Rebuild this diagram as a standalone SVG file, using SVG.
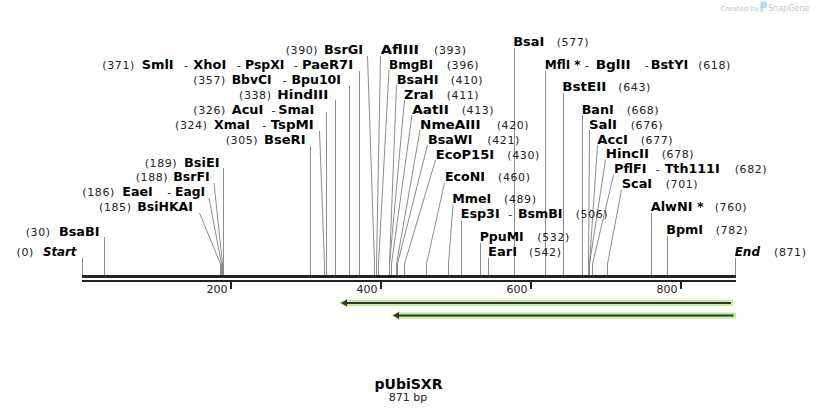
<svg xmlns="http://www.w3.org/2000/svg" width="818" height="415" viewBox="0 0 818 415">
<style>
text{font-family:"DejaVu Sans",Verdana,sans-serif}
.n{font-size:12px;font-weight:bold;fill:#000}
.i{font-size:12px;font-weight:bold;font-style:italic;fill:#000}
.c{font-size:11px;fill:#222;letter-spacing:0.6px}
.h{font-size:11px;font-weight:normal;fill:#222}
.t{font-size:11px;fill:#222;text-anchor:end}
.l{stroke:#8c8c8c;stroke-width:1;fill:none}
.bb{fill:#222}
.fg{stroke:#bdf29a;stroke-width:6;fill:none}
.fgh{fill:#bdf29a}
.fd{stroke:#333;stroke-width:2;fill:none}
.fdh{fill:#333}
.wm{fill:#c6c6c6}
</style>
<rect width="818" height="415" fill="#fff"/>

<g id="watermark">
<text class="wm" x="720.5" y="11" style="font-size:7px">Created by</text>
<path d="M760.5,1.5 h3.5 a3.2,3.2 0 0 1 0,6.4 h-1.3 v4.3 h-2.2 z" fill="#b3dcf5"/>
<text class="wm" x="768" y="11" style="font-size:8px">SnapGene</text>
</g>

<g id="connectors">
<polyline class="l" points="82.5,258 82.5,275"/>
<polyline class="l" points="104.5,237 104.5,275"/>
<polyline class="l" points="199.5,213 220.5,264 220.5,275"/>
<polyline class="l" points="209,198 221.5,264 221.5,275"/>
<polyline class="l" points="214,183 222.5,264 222.5,275"/>
<polyline class="l" points="223.5,168 223.5,275"/>
<polyline class="l" points="310.5,146 310.5,275"/>
<polyline class="l" points="319.5,131 324.5,264 324.5,275"/>
<polyline class="l" points="326.5,112 326.5,275"/>
<polyline class="l" points="335.5,100 335.5,275"/>
<polyline class="l" points="349.5,86 349.5,275"/>
<polyline class="l" points="359.5,71 359.5,275"/>
<polyline class="l" points="367.5,56 374.5,264 374.5,275"/>
<polyline class="l" points="380.5,56 376.5,264 376.5,275"/>
<polyline class="l" points="389,70 378.5,264 378.5,275"/>
<polyline class="l" points="396.5,85 389.5,264 389.5,275"/>
<polyline class="l" points="404.5,100 389.5,264 389.5,275"/>
<polyline class="l" points="412,115 391.5,264 391.5,275"/>
<polyline class="l" points="420,130 396.5,264 396.5,275"/>
<polyline class="l" points="427.5,145 397.5,264 397.5,275"/>
<polyline class="l" points="435.5,160 404.5,264 404.5,275"/>
<polyline class="l" points="444.5,183 426.5,264 426.5,275"/>
<polyline class="l" points="453,205 448.5,264 448.5,275"/>
<polyline class="l" points="461.5,221 461.5,275"/>
<polyline class="l" points="480.5,243 480.5,275"/>
<polyline class="l" points="488.5,258 488.5,275"/>
<polyline class="l" points="514.5,48 514.5,275"/>
<polyline class="l" points="545.5,71 545.5,275"/>
<polyline class="l" points="563.5,93 563.5,275"/>
<polyline class="l" points="582.5,115 582.5,275"/>
<polyline class="l" points="589.5,130 588.5,264 588.5,275"/>
<polyline class="l" points="597.5,145 589.5,264 589.5,275"/>
<polyline class="l" points="605.5,160 589.5,264 589.5,275"/>
<polyline class="l" points="613.5,175 592.5,264 592.5,275"/>
<polyline class="l" points="621.5,190 607.5,264 607.5,275"/>
<polyline class="l" points="651.5,213 651.5,275"/>
<polyline class="l" points="667.5,236 667.5,275"/>
<polyline class="l" points="735.5,258 735.5,275"/>
</g>

<g id="backbone">
<rect class="bb" x="82" y="275" width="654" height="3"/>
<rect class="bb" x="82" y="280" width="654" height="2"/>
<rect class="bb" x="230" y="282" width="2" height="7"/>
<rect class="bb" x="380" y="282" width="2" height="7"/>
<rect class="bb" x="530" y="282" width="2" height="7"/>
<rect class="bb" x="680" y="282" width="2" height="7"/>
<text class="t" x="227.5" y="293">200</text>
<text class="t" x="377.5" y="293">400</text>
<text class="t" x="527.5" y="293">600</text>
<text class="t" x="677.5" y="293">800</text>
</g>

<g id="feature1">
<path class="fg" d="M733,303 H346"/>
<polygon class="fgh" points="338.5,303 348,298.5 348,307.5"/>
<path class="fd" d="M731,303 H345"/>
<polygon class="fdh" points="341,303 347,299.5 347,306.5"/>
</g>
<g id="feature2">
<path class="fg" d="M736,315.5 H398"/>
<polygon class="fgh" points="390.5,315.5 400,311 400,320"/>
<path class="fd" d="M733.5,315.5 H397"/>
<polygon class="fdh" points="393,315.5 399,312 399,319"/>
</g>

<g id="start"><text class="c" x="16.5" y="256">(0)</text><text class="i" x="43" y="256" textLength="33.5" lengthAdjust="spacingAndGlyphs">Start</text></g>
<g id="BsaBI"><text class="c" x="25.7" y="236">(30)</text><text class="n" x="59" y="236" textLength="40.5" lengthAdjust="spacingAndGlyphs">BsaBI</text></g>
<g id="BsiHKAI"><text class="c" x="99" y="211">(185)</text><text class="n" x="137.3" y="211" textLength="55.5" lengthAdjust="spacingAndGlyphs">BsiHKAI</text></g>
<g id="EaeI"><text class="c" x="82.3" y="196">(186)</text><text class="n" x="122.3" y="196" textLength="30.5" lengthAdjust="spacingAndGlyphs">EaeI</text><text class="h" x="167.3" y="196">-</text><text class="n" x="175" y="196" textLength="30" lengthAdjust="spacingAndGlyphs">EagI</text></g>
<g id="BsrFI"><text class="c" x="135.7" y="181">(188)</text><text class="n" x="173.3" y="181" textLength="36.5" lengthAdjust="spacingAndGlyphs">BsrFI</text></g>
<g id="BsiEI"><text class="c" x="144.7" y="167">(189)</text><text class="n" x="184" y="167" textLength="35.5" lengthAdjust="spacingAndGlyphs">BsiEI</text></g>

<g id="SmlI"><text class="c" x="102.3" y="68.5">(371)</text><text class="n" x="141.7" y="68.5" textLength="32" lengthAdjust="spacingAndGlyphs">SmlI</text><text class="h" x="184" y="68.5">-</text><text class="n" x="193.3" y="68.5" textLength="33" lengthAdjust="spacingAndGlyphs">XhoI</text><text class="h" x="236.7" y="68.5">-</text><text class="n" x="245" y="68.5" textLength="39.5" lengthAdjust="spacingAndGlyphs">PspXI</text><text class="h" x="294" y="68.5">-</text><text class="n" x="302" y="68.5" textLength="51" lengthAdjust="spacingAndGlyphs">PaeR7I</text></g>
<g id="BbvCI"><text class="c" x="193.3" y="83.5">(357)</text><text class="n" x="231.7" y="83.5" textLength="40" lengthAdjust="spacingAndGlyphs">BbvCI</text><text class="h" x="282.5" y="83.5">-</text><text class="n" x="291.5" y="83.5" textLength="49.5" lengthAdjust="spacingAndGlyphs">Bpu10I</text></g>
<g id="HindIII"><text class="c" x="239" y="98.5">(338)</text><text class="n" x="277.3" y="98.5" textLength="51" lengthAdjust="spacingAndGlyphs">HindIII</text></g>
<g id="AcuI"><text class="c" x="193.3" y="113.5">(326)</text><text class="n" x="231.7" y="113.5" textLength="31.5" lengthAdjust="spacingAndGlyphs">AcuI</text><text class="h" x="271.5" y="113.5">-</text><text class="n" x="278.3" y="113.5" textLength="36" lengthAdjust="spacingAndGlyphs">SmaI</text></g>
<g id="XmaI"><text class="c" x="175" y="128.5">(324)</text><text class="n" x="214" y="128.5" textLength="36" lengthAdjust="spacingAndGlyphs">XmaI</text><text class="h" x="262.3" y="128.5">-</text><text class="n" x="270.7" y="128.5" textLength="43" lengthAdjust="spacingAndGlyphs">TspMI</text></g>
<g id="BseRI"><text class="c" x="225.7" y="143.5">(305)</text><text class="n" x="264" y="143.5" textLength="41.5" lengthAdjust="spacingAndGlyphs">BseRI</text></g>

<g id="BsrGI"><text class="c" x="285.7" y="53.5">(390)</text><text class="n" x="324" y="53.5" textLength="39" lengthAdjust="spacingAndGlyphs">BsrGI</text></g>
<g id="AflIII"><text class="n" x="380.7" y="53.5" textLength="38.3" lengthAdjust="spacingAndGlyphs">AflIII</text><text class="c" x="434" y="53.5">(393)</text></g>
<g id="BmgBI"><text class="n" x="389" y="68.5" textLength="44" lengthAdjust="spacingAndGlyphs">BmgBI</text><text class="c" x="446.7" y="68.5">(396)</text></g>
<g id="BsaHI"><text class="n" x="396.7" y="83.5" textLength="42" lengthAdjust="spacingAndGlyphs">BsaHI</text><text class="c" x="450.7" y="83.5">(410)</text></g>
<g id="ZraI"><text class="n" x="404" y="98.5" textLength="29.5" lengthAdjust="spacingAndGlyphs">ZraI</text><text class="c" x="446.7" y="98.5">(411)</text></g>
<g id="AatII"><text class="n" x="412.3" y="113.5" textLength="36.5" lengthAdjust="spacingAndGlyphs">AatII</text><text class="c" x="461.7" y="113.5">(413)</text></g>
<g id="NmeAIII"><text class="n" x="420" y="128.5" textLength="60.5" lengthAdjust="spacingAndGlyphs">NmeAIII</text><text class="c" x="496.7" y="128.5">(420)</text></g>
<g id="BsaWI"><text class="n" x="428" y="143.5" textLength="44.5" lengthAdjust="spacingAndGlyphs">BsaWI</text><text class="c" x="487.3" y="143.5">(421)</text></g>
<g id="EcoP15I"><text class="n" x="435.7" y="158.5" textLength="58.5" lengthAdjust="spacingAndGlyphs">EcoP15I</text><text class="c" x="507.3" y="158.5">(430)</text></g>
<g id="EcoNI"><text class="n" x="445" y="181" textLength="40" lengthAdjust="spacingAndGlyphs">EcoNI</text><text class="c" x="498" y="181">(460)</text></g>
<g id="MmeI"><text class="n" x="452.3" y="202.5" textLength="39" lengthAdjust="spacingAndGlyphs">MmeI</text><text class="c" x="504" y="202.5">(489)</text></g>
<g id="Esp3I"><text class="n" x="460.7" y="218" textLength="39" lengthAdjust="spacingAndGlyphs">Esp3I</text><text class="h" x="508.3" y="218">-</text><text class="n" x="518" y="218" textLength="44.5" lengthAdjust="spacingAndGlyphs">BsmBI</text><text class="c" x="575.7" y="218">(506)</text></g>
<g id="PpuMI"><text class="n" x="479.7" y="241" textLength="44" lengthAdjust="spacingAndGlyphs">PpuMI</text><text class="c" x="537.3" y="241">(532)</text></g>
<g id="EarI"><text class="n" x="488" y="256" textLength="29" lengthAdjust="spacingAndGlyphs">EarI</text><text class="c" x="529" y="256">(542)</text></g>

<g id="BsaI"><text class="n" x="513.3" y="46" textLength="31" lengthAdjust="spacingAndGlyphs">BsaI</text><text class="c" x="556.7" y="46">(577)</text></g>
<g id="MflI"><text class="n" x="544.7" y="68.5" textLength="36" lengthAdjust="spacingAndGlyphs">MflI *</text><text class="h" x="585" y="68.5">-</text><text class="n" x="595.7" y="68.5" textLength="35" lengthAdjust="spacingAndGlyphs">BglII</text><text class="h" x="644.7" y="68.5">-</text><text class="n" x="650.7" y="68.5" textLength="37.5" lengthAdjust="spacingAndGlyphs">BstYI</text><text class="c" x="698.3" y="68.5">(618)</text></g>
<g id="BstEII"><text class="n" x="562.3" y="91" textLength="44" lengthAdjust="spacingAndGlyphs">BstEII</text><text class="c" x="618.3" y="91">(643)</text></g>
<g id="BanI"><text class="n" x="581.7" y="113.5" textLength="32" lengthAdjust="spacingAndGlyphs">BanI</text><text class="c" x="626.7" y="113.5">(668)</text></g>
<g id="SalI"><text class="n" x="589" y="128.5" textLength="28" lengthAdjust="spacingAndGlyphs">SalI</text><text class="c" x="630.7" y="128.5">(676)</text></g>
<g id="AccI"><text class="n" x="597.3" y="143.5" textLength="30.5" lengthAdjust="spacingAndGlyphs">AccI</text><text class="c" x="640.7" y="143.5">(677)</text></g>
<g id="HincII"><text class="n" x="605.7" y="158" textLength="43.3" lengthAdjust="spacingAndGlyphs">HincII</text><text class="c" x="661.7" y="158">(678)</text></g>
<g id="PflFI"><text class="n" x="614" y="173" textLength="32.5" lengthAdjust="spacingAndGlyphs">PflFI</text><text class="h" x="655.7" y="173">-</text><text class="n" x="664.7" y="173" textLength="55" lengthAdjust="spacingAndGlyphs">Tth111I</text><text class="c" x="734.7" y="173">(682)</text></g>
<g id="ScaI"><text class="n" x="621.7" y="188" textLength="30.5" lengthAdjust="spacingAndGlyphs">ScaI</text><text class="c" x="665.7" y="188">(701)</text></g>
<g id="AlwNI"><text class="n" x="650.7" y="211" textLength="53" lengthAdjust="spacingAndGlyphs">AlwNI *</text><text class="c" x="714.7" y="211">(760)</text></g>
<g id="BpmI"><text class="n" x="666.3" y="233.5" textLength="36.8" lengthAdjust="spacingAndGlyphs">BpmI</text><text class="c" x="715.7" y="233.5">(782)</text></g>
<g id="end"><text class="i" x="734.7" y="256" textLength="25.3" lengthAdjust="spacingAndGlyphs">End</text><text class="c" x="774" y="256">(871)</text></g>

<g id="title">
<text x="408.5" y="388.5" text-anchor="middle" style="font-size:14px;font-weight:bold;fill:#000">pUbiSXR</text>
<text x="408" y="401" text-anchor="middle" style="font-size:11px;fill:#222">871 bp</text>
</g>
</svg>
